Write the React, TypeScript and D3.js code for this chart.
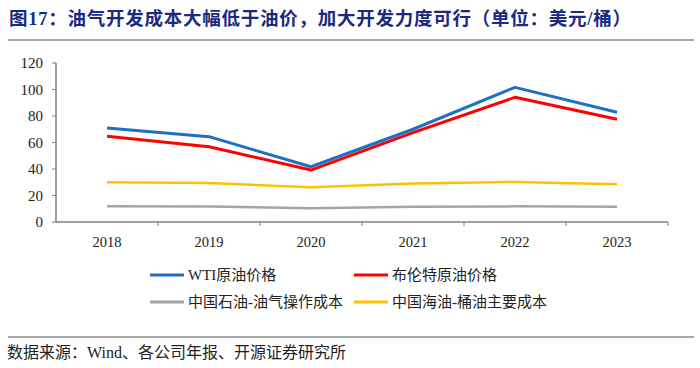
import React from "react";
import * as d3 from "d3";

const years = ["2018", "2019", "2020", "2021", "2022", "2023"];
const wti = [71, 64.4, 41.7, 70, 101.6, 82.8];
const brent = [64.7, 56.8, 39.2, 67.5, 94.1, 77.5];
const petrochina = [11.8, 11.7, 10.3, 11.5, 11.8, 11.6];
const cnooc = [30, 29.4, 26.2, 29, 30.2, 28.4];
const yTicks = [0, 20, 40, 60, 80, 100, 120];

const seriesNames = ["WTI原油价格", "布伦特原油价格", "中国石油-油气操作成本", "中国海油-桶油主要成本"];
const seriesColors = ["#1F6FC5", "#FF0000", "#A5A5A5", "#FFC000"];
const seriesData = [wti, brent, petrochina, cnooc];

const serif = "'Liberation Serif', 'Times New Roman', 'Noto Sans CJK SC', serif";

export default function App() {
  const W = 700, H = 368;
  const x = d3.scaleBand().domain(years).range([56, 668]);
  const y = d3.scaleLinear().domain([0, 120]).range([222, 63]);
  const line = d3.line<number>()
    .x((_, i) => (x(years[i]) as number) + x.bandwidth() / 2)
    .y((d) => y(d));
  const order = [2, 3, 1, 0];
  const legendPos = [
    { x: 150, y: 275 }, { x: 354, y: 275 }, { x: 150, y: 302 }, { x: 354, y: 302 },
  ];
  return (
    <svg width={W} height={H} style={{ position: "absolute", left: 0, top: 0, background: "#fff" }}>
      <text x={9} y={25} fontFamily={serif} fontWeight="bold" fontSize={18.5} letterSpacing={0.75} fill="#1A2A80">
        图17：油气开发成本大幅低于油价，加大开发力度可行（单位：美元/桶）
      </text>
      <line x1={8} x2={694} y1={40} y2={40} stroke="#555" strokeWidth={1} />
      {/* y axis */}
      <line x1={56} x2={56} y1={y(120)} y2={y(0)} stroke="#808080" strokeWidth={1.5} />
      {yTicks.map((t) => (
        <g key={t}>
          <line x1={52} x2={56} y1={y(t)} y2={y(t)} stroke="#808080" strokeWidth={1} />
          <text x={43} y={y(t) + 5} textAnchor="end" fontFamily={serif} fontSize={15} fill="#222">{t}</text>
        </g>
      ))}
      {/* x axis */}
      <line x1={56} x2={668} y1={y(0)} y2={y(0)} stroke="#808080" strokeWidth={1.5} />
      {years.map((yr) => (
        <g key={yr}>
          <line x1={(x(yr) as number) + x.bandwidth()} x2={(x(yr) as number) + x.bandwidth()} y1={222} y2={226} stroke="#808080" strokeWidth={1} />
          <text x={(x(yr) as number) + x.bandwidth() / 2} y={247} textAnchor="middle" fontFamily={serif} fontSize={14.5} fill="#222">{yr}</text>
        </g>
      ))}
      {order.map((k) => (
        <path key={k} d={line(seriesData[k]) || ""} fill="none" stroke={seriesColors[k]} strokeWidth={k < 2 ? 3 : 2.5} strokeLinejoin="round" />
      ))}
      {seriesNames.map((n, i) => (
        <g key={n}>
          <line x1={legendPos[i].x} x2={legendPos[i].x + 34} y1={legendPos[i].y} y2={legendPos[i].y} stroke={seriesColors[i]} strokeWidth={3} />
          <text x={legendPos[i].x + 38} y={legendPos[i].y + 5} fontFamily={serif} fontSize={15} fill="#222">{n}</text>
        </g>
      ))}
      <line x1={8} x2={694} y1={337} y2={337} stroke="#555" strokeWidth={1} />
      <text x={7} y={358} fontFamily={serif} fontSize={16} fill="#222">数据来源：Wind、各公司年报、开源证券研究所</text>
    </svg>
  );
}
